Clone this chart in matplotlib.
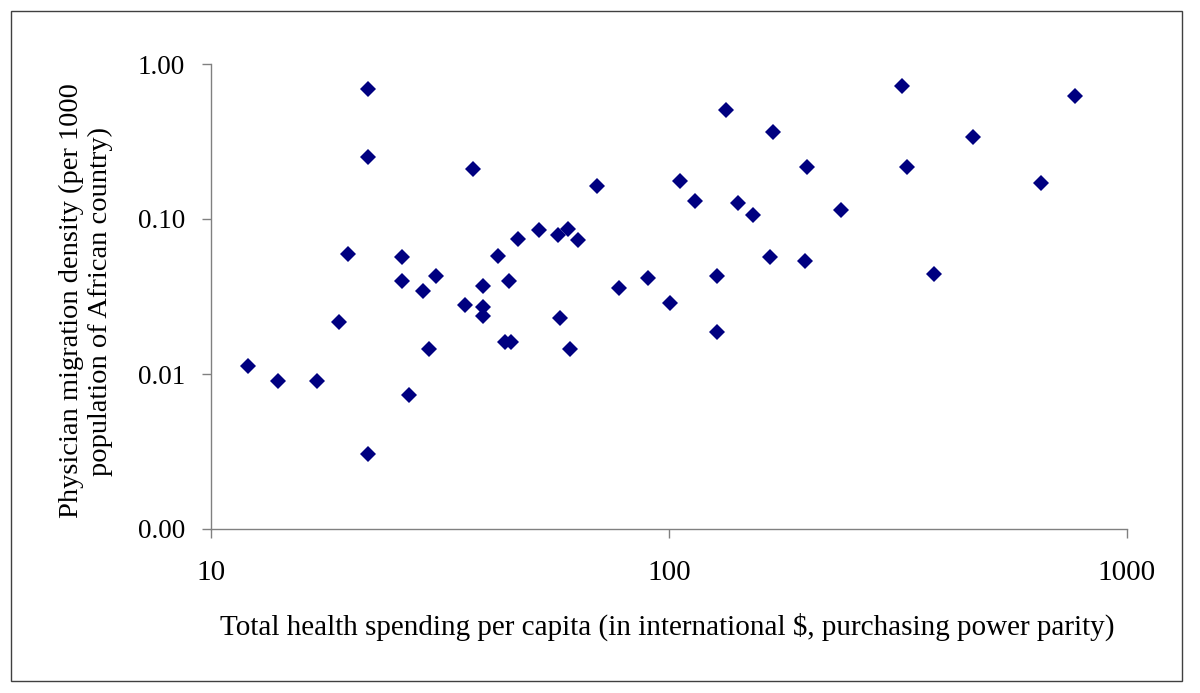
import matplotlib
matplotlib.use("Agg")
import matplotlib.pyplot as plt
from matplotlib.patches import Rectangle
from matplotlib.ticker import FixedLocator, NullLocator, FixedFormatter

# total health spending per capita (international $, PPP)
spending = [22.0, 22.0, 37.3, 19.9, 26.1, 26.1, 31.0, 29.1, 39.2, 44.8,
            35.9, 39.2, 39.2, 43.8, 45.2, 19.0, 29.9, 12.06, 13.98, 17.0,
            27.1, 22.0, 42.3, 46.7, 51.9, 57.3, 60.3, 63.2, 57.9, 60.9,
            69.6, 77.8, 90.2, 100.7, 105.9, 114.0, 127.0, 127.0, 133.4, 141.8,
            152.7, 166.3, 168.3, 197.7, 199.8, 237.4, 322.7, 330.6, 379.0, 460.3,
            650.6, 770.6]
# physician migration density (per 1000 population)
migration = [0.693, 0.253, 0.210, 0.0594, 0.0571, 0.0398, 0.0431, 0.0345, 0.0371, 0.0400,
             0.0279, 0.0269, 0.0238, 0.0162, 0.0162, 0.0215, 0.0145, 0.01127, 0.00896, 0.00896,
             0.00728, 0.00305, 0.0574, 0.0742, 0.0853, 0.0792, 0.0862, 0.0735, 0.0231, 0.0144,
             0.164, 0.0357, 0.0414, 0.0287, 0.176, 0.131, 0.0429, 0.0187, 0.505, 0.127,
             0.106, 0.0571, 0.364, 0.0533, 0.218, 0.1136, 0.724, 0.218, 0.0442, 0.338,
             0.170, 0.624]

x_ticks = [10, 100, 1000]
x_labels = ["10", "100", "1000"]
y_ticks = [0.001, 0.01, 0.1, 1.0]
y_labels = ["0.00", "0.01", "0.10", "1.00"]

plt.rcParams['font.family'] = ['Liberation Serif', 'DejaVu Serif']

W, H = 1200, 693
fig = plt.figure(figsize=(12, 6.93), dpi=100)
fig.patch.set_facecolor('white')

# outer frame
fig.patches.append(Rectangle((11 / W, 1 - 681 / H), 1171 / W, 670 / H, transform=fig.transFigure,
                             fill=False, edgecolor='#404040', linewidth=1.0))

ax = fig.add_axes([211 / W, 1 - 529 / H, (1127 - 211) / W, (529 - 64) / H])
ax.plot(spending, migration, linestyle='none', marker='D', markersize=8.3,
        color='#000080', markeredgewidth=0)
ax.set_xscale('log')
ax.set_yscale('log')
ax.set_xlim(10, 1000)
ax.set_ylim(0.001, 1.0)

ax.xaxis.set_major_locator(FixedLocator(x_ticks))
ax.xaxis.set_major_formatter(FixedFormatter(x_labels))
ax.xaxis.set_minor_locator(NullLocator())
ax.yaxis.set_major_locator(FixedLocator(y_ticks))
ax.yaxis.set_major_formatter(FixedFormatter(y_labels))
ax.yaxis.set_minor_locator(NullLocator())

for s in ['top', 'right']:
    ax.spines[s].set_visible(False)
for s in ['left', 'bottom']:
    ax.spines[s].set_color('#808080')
    ax.spines[s].set_linewidth(1.0)
ax.tick_params(axis='both', direction='out', length=6.5, width=1.0, color='#808080',
               labelcolor='black')
ax.tick_params(axis='x', pad=16, labelsize=21)
ax.tick_params(axis='y', pad=12, labelsize=19.5)

fig.text(667 / W, 1 - 635 / H,
         "Total health spending per capita (in international $, purchasing power parity)",
         ha='center', va='baseline', fontsize=21)
fig.text(86 / W, 1 - 301 / H,
         "Physician migration density (per 1000\npopulation of African country)",
         ha='center', va='center', rotation=90, fontsize=20.5, multialignment='center',
         linespacing=1.2)

fig.savefig("out.png", dpi=100)
